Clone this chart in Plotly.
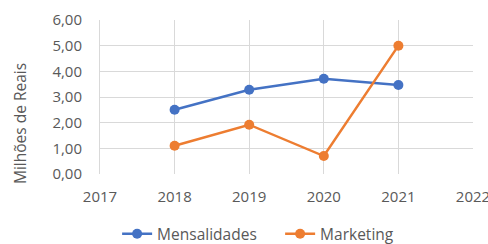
import plotly.graph_objects as go

years = [2018, 2019, 2020, 2021]
mensalidades = [2.50, 3.28, 3.71, 3.47]
marketing = [1.10, 1.92, 0.70, 5.00]
x_ticks = [2017, 2018, 2019, 2020, 2021, 2022]
y_ticks = [0, 1, 2, 3, 4, 5, 6]

font = "Open Sans"
gray = "#595959"
grid = "#D9D9D9"

fig = go.Figure()
fig.add_trace(go.Scatter(x=years, y=mensalidades, name="Mensalidades", mode="lines+markers",
                         line=dict(color="#4472C4", width=2.5), marker=dict(size=10, color="#4472C4")))
fig.add_trace(go.Scatter(x=years, y=marketing, name="Marketing", mode="lines+markers",
                         line=dict(color="#ED7D31", width=2.5), marker=dict(size=10, color="#ED7D31")))

fig.update_layout(
    width=488, height=244,
    margin=dict(l=100, r=15, t=20, b=70, autoexpand=False),
    plot_bgcolor="white", paper_bgcolor="white",
    separators=",.",
    font=dict(family=font, size=15, color=gray),
    showlegend=True,
    legend=dict(orientation="h", xref="container", x=0.24, xanchor="left",
                yref="container", y=0.04, yanchor="middle", font=dict(size=15.5, color=gray),
                itemwidth=30, entrywidth=118, entrywidthmode="pixels", bgcolor="rgba(0,0,0,0)"),
)
fig.add_annotation(text="Milhões de Reais", xref="paper", yref="paper", x=-0.215, y=0.33,
                   xanchor="center", yanchor="middle", textangle=-90, showarrow=False,
                   font=dict(size=15.5, color=gray, family=font))
fig.update_xaxes(range=[2017, 2022], tickvals=x_ticks, showgrid=True, gridcolor=grid,
                 zeroline=False, showline=False, ticks="", ticklabelstandoff=12,
                 ticklabeloverflow="allow", tickfont=dict(size=15, color=gray))
fig.update_yaxes(range=[0, 6], tickvals=y_ticks, tickformat=".2f", showgrid=True, gridcolor=grid,
                 zeroline=False, showline=True, linecolor=grid, ticks="", ticklabelstandoff=14,
                 tickfont=dict(size=15, color=gray))
fig.write_html("out.html", config={"displayModeBar": False},
               post_script="document.body.style.margin='0';document.body.style.overflow='hidden';")
